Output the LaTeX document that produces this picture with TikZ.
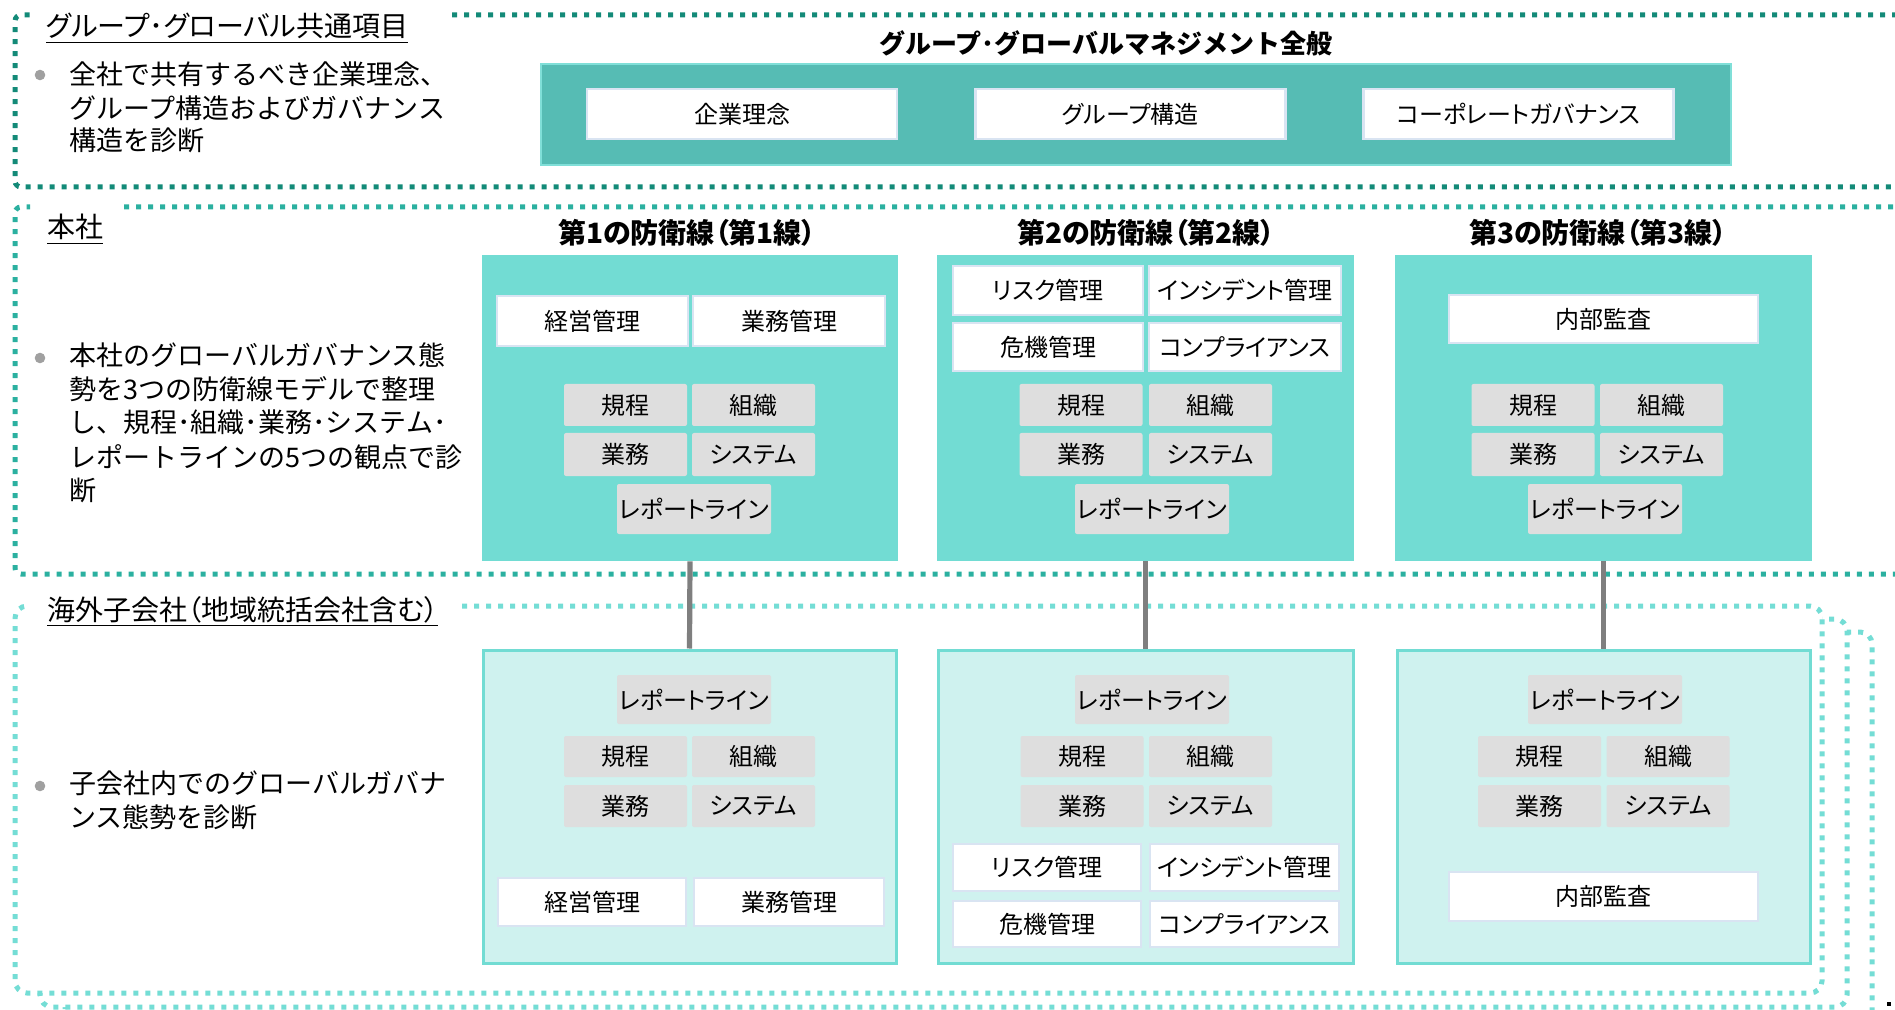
\documentclass[tikz,border=0pt]{standalone}
\usepackage{fontspec}
\setmainfont{Noto Sans CJK JP}
\newfontfamily\propfont{Noto Sans CJK JP}[RawFeature=+palt]
\definecolor{topc}{HTML}{138A78}
\definecolor{honc}{HTML}{2BB0A0}
\definecolor{ovc}{HTML}{74DDD5}
\definecolor{hfill}{HTML}{72DCD3}
\definecolor{ofill}{HTML}{CFF2EF}
\definecolor{gfill}{HTML}{DEDEDE}
\definecolor{wbord}{HTML}{D9E4F2}
\definecolor{tealbox}{HTML}{56BCB4}
\definecolor{tealbord}{HTML}{80DFD8}
\definecolor{linkc}{HTML}{7F7F7F}
\definecolor{dotg}{HTML}{A0A0A0}
\begin{document}
\begin{tikzpicture}[x=0.5pt,y=-0.5pt,
 sz/.style 2 args={minimum width=#1*0.5pt, minimum height=#2*0.5pt},
 fr/.style={line width=2.5pt, dash pattern=on 2.5pt off 3.5pt},
 wbox/.style={draw=wbord, line width=1.2pt, fill=white, inner sep=0pt, font=\propfont\fontsize{12}{14}\selectfont},
 gbox/.style={fill=gfill, inner sep=0pt, rounded corners=1pt, font=\propfont\fontsize{12}{14}\selectfont},
 hbox/.style={fill=hfill, inner sep=0pt},
 obox/.style={fill=ofill, draw=hfill, line width=1.5pt, inner sep=0pt},
 hdr/.style={font=\propfont\fontsize{14}{16}\selectfont\bfseries, inner sep=0pt},
 lab/.style={font=\propfont\fontsize{14}{16}\selectfont, anchor=base west, inner sep=0pt},
 bul/.style={font=\fontsize{13.5}{16}\selectfont, anchor=base west, inner sep=0pt},
 bdot/.style={circle, fill=dotg, inner sep=0pt, minimum size=5.3pt},
 link/.style={draw=linkc, line width=2.6pt}
]
\useasboundingbox (0,0) rectangle (1895,1010);
\clip (0,0) rectangle (1895,1010);

% ---------- frames ----------
\draw[fr, draw=topc, rounded corners=3pt] (452,15) -- (1910,15) -- (1910,187) -- (15,187) -- (15,15) -- (30,15);
\draw[fr, draw=honc, rounded corners=3pt] (124,207) -- (1910,207) -- (1910,574) -- (15,574) -- (15,207) -- (30,207);
\draw[fr, draw=ovc, fill=white, rounded corners=6pt] (65,632) rectangle (1872,1040);
\draw[fr, draw=ovc, fill=white, rounded corners=6pt] (40,619) rectangle (1847,1007);
\fill[white] (15,606) rectangle (1822,993);
\draw[fr, draw=ovc, rounded corners=6pt] (462,606) -- (1822,606) -- (1822,993) -- (15,993) -- (15,606) -- (30,606);
\fill[black] (1887,1002) rectangle (1891,1006);

% ---------- labels and bullet texts ----------
\node[lab] (labTop) at (46,37) {\underline{グループ･グローバル共通項目}};
\node[bdot] (dTop) at (40,75) {};
\node[bul] (tTop1) at (69,85) {全社で共有するべき企業理念、};
\node[bul] (tTop2) at (69,119) {グループ構造およびガバナンス};
\node[bul] (tTop3) at (69,151) {構造を診断};

\node[lab] (labHon) at (47,238) {\underline{本社}};
\node[bdot] (dHon) at (40,358) {};
\node[bul] (tHon1) at (69,366) {本社のグローバルガバナンス態};
\node[bul] (tHon2) at (69,400) {勢を3つの防衛線モデルで整理};
\node[bul] (tHon3) at (69,433) {し、規程･組織･業務･システム･};
\node[bul] (tHon4) at (69,467) {レポートラインの5つの観点で診};
\node[bul] (tHon5) at (69,500) {断};

\node[lab] (labOv) at (47,620) {\underline{海外子会社（地域統括会社含む）}};
\node[bdot] (dOv) at (40,786) {};
\node[bul] (tOv1) at (69,793) {子会社内でのグローバルガバナ};
\node[bul] (tOv2) at (69,827) {ンス態勢を診断};

% ---------- top management box ----------
\node[font=\fontsize{13}{16}\selectfont\bfseries, inner sep=0pt] (ttl) at (1106,43) {グループ･グローバルマネジメント全般};
\node[fill=tealbox, draw=tealbord, line width=1.2pt, inner sep=0pt, sz={1190}{101}] (tb) at (1136,114.5) {};
\node[wbox, sz={310}{50}] (tb1) at (742,114) {企業理念};
\node[wbox, sz={310}{50}] (tb2) at (1130.5,114) {グループ構造};
\node[wbox, sz={310}{50}] (tb3) at (1518.5,114) {コーポレートガバナンス};

% ---------- headers ----------
\node[hdr] (hd1) at (687,233) {第1の防衛線（第1線）};
\node[hdr] (hd2) at (1146,233) {第2の防衛線（第2線）};
\node[hdr] (hd3) at (1598,233) {第3の防衛線（第3線）};

% ---------- head office column 1 ----------
\node[hbox, sz={416}{306}] (h1) at (690,408) {};
\node[wbox, sz={191}{50}] (h1m1) at (592.5,321) {経営管理};
\node[wbox, sz={192}{50}] (h1m2) at (789,321) {業務管理};
\node[gbox, sz={123}{42}] (h1a) at (625.5,405) {規程};
\node[gbox, sz={123}{42}] (h1b) at (753.5,405) {組織};
\node[gbox, sz={123}{43}] (h1c) at (625.5,454.5) {業務};
\node[gbox, sz={123}{43}] (h1d) at (753.5,454.5) {システム};
\node[gbox, sz={154}{50}] (h1r) at (694,509) {レポートライン};

% ---------- head office column 2 ----------
\node[hbox, sz={417}{306}] (h2) at (1145.5,408) {};
\node[wbox, sz={190}{49}] (h2m1) at (1048,290.5) {リスク管理};
\node[wbox, sz={192}{49}] (h2m2) at (1245,290.5) {インシデント管理};
\node[wbox, sz={190}{48}] (h2m3) at (1048,347) {危機管理};
\node[wbox, sz={192}{48}] (h2m4) at (1245,347) {コンプライアンス};
\node[gbox, sz={123}{42}] (h2a) at (1081,405) {規程};
\node[gbox, sz={123}{42}] (h2b) at (1210.5,405) {組織};
\node[gbox, sz={123}{43}] (h2c) at (1081,454.5) {業務};
\node[gbox, sz={123}{43}] (h2d) at (1210.5,454.5) {システム};
\node[gbox, sz={154}{50}] (h2r) at (1152,509) {レポートライン};

% ---------- head office column 3 ----------
\node[hbox, sz={417}{306}] (h3) at (1603.5,408) {};
\node[wbox, sz={309}{48}] (h3m) at (1603.5,319) {内部監査};
\node[gbox, sz={123}{42}] (h3a) at (1533,405) {規程};
\node[gbox, sz={123}{42}] (h3b) at (1661.5,405) {組織};
\node[gbox, sz={123}{43}] (h3c) at (1533,454.5) {業務};
\node[gbox, sz={123}{43}] (h3d) at (1661.5,454.5) {システム};
\node[gbox, sz={154}{50}] (h3r) at (1605,509) {レポートライン};

% ---------- overseas column 1 ----------
\node[obox, sz={413}{313}] (o1) at (689.5,806.5) {};
\node[gbox, sz={154}{49}] (o1r) at (694,699.5) {レポートライン};
\node[gbox, sz={123}{41}] (o1a) at (625.5,756.5) {規程};
\node[gbox, sz={123}{41}] (o1b) at (753.5,756.5) {組織};
\node[gbox, sz={123}{42}] (o1c) at (625.5,806) {業務};
\node[gbox, sz={123}{42}] (o1d) at (753.5,806) {システム};
\node[wbox, sz={188}{48}] (o1m1) at (592,902) {経営管理};
\node[wbox, sz={190}{48}] (o1m2) at (789,902) {業務管理};

% ---------- overseas column 2 ----------
\node[obox, sz={415}{313}] (o2) at (1145.5,806.5) {};
\node[gbox, sz={154}{49}] (o2r) at (1152,699.5) {レポートライン};
\node[gbox, sz={123}{41}] (o2a) at (1082,756.5) {規程};
\node[gbox, sz={123}{41}] (o2b) at (1210.5,756.5) {組織};
\node[gbox, sz={123}{42}] (o2c) at (1082,806) {業務};
\node[gbox, sz={123}{42}] (o2d) at (1210.5,806) {システム};
\node[wbox, sz={188}{47}] (o2m1) at (1047,867.5) {リスク管理};
\node[wbox, sz={189}{47}] (o2m2) at (1244.5,867.5) {インシデント管理};
\node[wbox, sz={188}{46}] (o2m3) at (1047,924) {危機管理};
\node[wbox, sz={189}{46}] (o2m4) at (1244.5,924) {コンプライアンス};

% ---------- overseas column 3 ----------
\node[obox, sz={413}{313}] (o3) at (1603.5,806.5) {};
\node[gbox, sz={154}{49}] (o3r) at (1605,699.5) {レポートライン};
\node[gbox, sz={123}{41}] (o3a) at (1539.5,756.5) {規程};
\node[gbox, sz={123}{41}] (o3b) at (1668,756.5) {組織};
\node[gbox, sz={123}{42}] (o3c) at (1539.5,806) {業務};
\node[gbox, sz={123}{42}] (o3d) at (1668,806) {システム};
\node[wbox, sz={309}{49}] (o3m) at (1603.5,896.5) {内部監査};

% ---------- connectors ----------
\draw[link] (h1.south) -- (o1.north);
\draw[link] (h2.south) -- (o2.north);
\draw[link] (h3.south) -- (o3.north);
\end{tikzpicture}
\end{document}
